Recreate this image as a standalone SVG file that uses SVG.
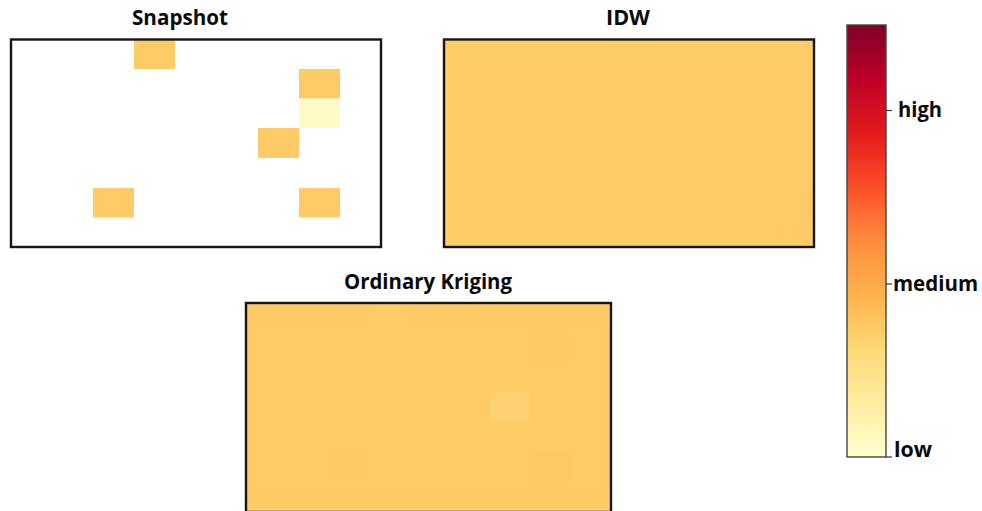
<svg xmlns="http://www.w3.org/2000/svg" width="982" height="511" viewBox="0 0 982 511">
<style>
text{font-family:"Open Sans","Noto Sans","Liberation Sans",sans-serif;font-weight:700;fill:#0a0a0a;font-size:21px}
.t{text-anchor:middle}
.f{fill:none;stroke:#151515;stroke-width:2.4}
.c{fill:#fecb66}
.k{stroke:#333;stroke-width:1.2}
</style>
<defs>
<linearGradient id="ylorrd" x1="0" y1="1" x2="0" y2="0">
<stop offset="0" stop-color="#ffffcc"/><stop offset="0.125" stop-color="#ffeda0"/><stop offset="0.25" stop-color="#fed976"/><stop offset="0.375" stop-color="#feb24c"/><stop offset="0.5" stop-color="#fd8d3c"/><stop offset="0.625" stop-color="#fc4e2a"/><stop offset="0.75" stop-color="#e31a1c"/><stop offset="0.875" stop-color="#bd0026"/><stop offset="1" stop-color="#800026"/>
</linearGradient>
</defs>
<rect width="982" height="511" fill="#fff"/>
<g id="snapshot">
<text class="t" x="180" y="25" textLength="96" lengthAdjust="spacingAndGlyphs">Snapshot</text>
<rect class="c" x="134" y="40" width="41" height="29"/>
<rect class="c" x="299" y="69" width="41" height="29.5"/>
<rect x="299" y="98.5" width="41" height="29.5" fill="#fffac6"/>
<rect class="c" x="258" y="128" width="41" height="30"/>
<rect class="c" x="93" y="188" width="41" height="29.5"/>
<rect class="c" x="299" y="188" width="41" height="29.5"/>
<rect class="f" x="11" y="39.5" width="370" height="207.5"/>
</g>
<g id="idw">
<text class="t" x="628" y="25" textLength="44" lengthAdjust="spacingAndGlyphs">IDW</text>
<rect x="444" y="39.5" width="370" height="207.5" fill="#fecd68"/>
<rect x="732" y="188" width="82" height="59" fill="#fecc67"/>
<rect x="773" y="217" width="41" height="30" fill="#fecb66"/>
<rect class="f" x="444" y="39.5" width="370" height="207.5"/>
</g>
<g id="kriging">
<text class="t" x="428" y="289" textLength="168" lengthAdjust="spacingAndGlyphs">Ordinary Kriging</text>
<rect x="246" y="303" width="365" height="209" fill="#fecb66"/>
<rect x="367" y="304" width="41" height="29" fill="#fecc68"/>
<rect x="530" y="333" width="41" height="29.5" fill="#feca65"/>
<rect x="490" y="392" width="40" height="29.5" fill="#fed070"/>
<rect x="327" y="451" width="40" height="30" fill="#feca65"/>
<rect x="530" y="451" width="41" height="30" fill="#fec863"/>
<rect class="f" x="246" y="303" width="365" height="209"/>
</g>
<g id="colorbar">
<rect x="847" y="25" width="39" height="432" fill="url(#ylorrd)" stroke="#444" stroke-width="1.4"/>
<line class="k" x1="886" y1="110.5" x2="892" y2="110.5"/>
<line class="k" x1="886" y1="284" x2="892" y2="284"/>
<line class="k" x1="886" y1="457" x2="892" y2="457"/>
<text x="898" y="117" textLength="44" lengthAdjust="spacingAndGlyphs">high</text>
<text x="893" y="291" textLength="85" lengthAdjust="spacingAndGlyphs">medium</text>
<text x="894" y="457" textLength="38" lengthAdjust="spacingAndGlyphs">low</text>
</g>
</svg>
